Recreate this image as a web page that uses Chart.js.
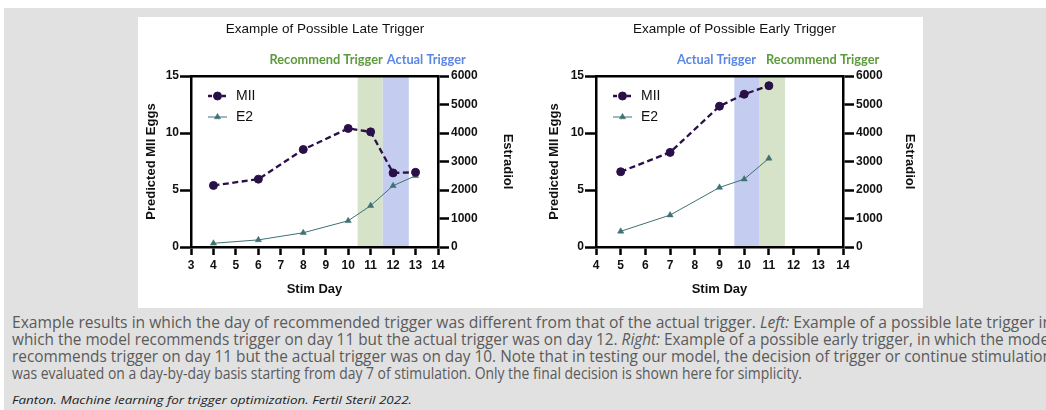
<!DOCTYPE html>
<html>
<head>
<meta charset="utf-8">
<script src="https://cdn.jsdelivr.net/npm/chart.js@4.4.1/dist/chart.umd.min.js"></script>
<style>
  html, body { margin: 0; padding: 0; background: #fff; width: 1046px; height: 410px; overflow: hidden; }
  #bg { position: absolute; left: 4px; top: 8px; right: 0; bottom: 0; background: #e1e1e1; }
  #panel { position: absolute; left: 138px; top: 17px; width: 785px; height: 291px; background: #fff; }
  #panel canvas { position: absolute; top: 0; }
  .cap { position: absolute; left: 12px; white-space: nowrap; font-family: 'Open Sans', sans-serif;
         font-size: 15.5px; line-height: 17px; color: #5a5a5a; transform-origin: 0 50%; }
  .cite { font-style: italic; font-size: 11.5px; line-height: 14px; color: #222; }
</style>
</head>
<body>
<div id="bg"></div>
<div id="panel">
  <canvas id="lateChart" width="385" height="291" style="left:0"></canvas>
  <canvas id="earlyChart" width="400" height="291" style="left:385px"></canvas>
</div>
<div class="cap" style="top:314px" data-w="1040">Example results in which the day of recommended trigger was different from that of the actual trigger. <i>Left:</i> Example of a possible late trigger in</div>
<div class="cap" style="top:331px" data-w="1041">which the model recommends trigger on day 11 but the actual trigger was on day 12. <i>Right:</i> Example of a possible early trigger, in which the model</div>
<div class="cap" style="top:347.5px" data-w="1040">recommends trigger on day 11 but the actual trigger was on day 10. Note that in testing our model, the decision of trigger or continue stimulation</div>
<div class="cap" style="top:364.5px" data-w="790">was evaluated on a day-by-day basis starting from day 7 of stimulation. Only the final decision is shown here for simplicity.</div>
<div class="cap cite" style="top:393px" data-w="400">Fanton. Machine learning for trigger optimization. Fertil Steril 2022.</div>

<script>
  // late trigger example (left)
  const daysLate = [4, 6, 8, 10, 11, 12, 13];
  const miiLate = [5.4, 5.95, 8.55, 10.4, 10.1, 6.5, 6.55];
  const e2Late = [130, 250, 500, 920, 1450, 2150, 2500];
  const recommendLate = [10.42, 11.54];
  const actualLate = [11.54, 12.7];

  // early trigger example (right)
  const daysEarly = [5, 7, 9, 10, 11];
  const miiEarly = [6.6, 8.3, 12.35, 13.4, 14.15];
  const e2Early = [550, 1120, 2090, 2380, 3110];
  const actualEarly = [9.6, 10.6];
  const recommendEarly = [10.6, 11.65];

  // axis limits
  const dayMax = 14;
  const miiMax = 15;
  const e2Max = 6000;

  const PURPLE = '#2a1048';
  const TEAL = '#3f7073';
  const GREEN_BAND = '#d6e3c9';
  const BLUE_BAND = '#c4cdf0';
  const GREEN_TXT = '#5d9a3c';
  const BLUE_TXT = '#5a86e6';

  Chart.defaults.font.family = "'Liberation Sans', Arial, Helvetica, sans-serif";
  Chart.defaults.color = '#111';

  // fit caption lines to the widths in the reference
  document.querySelectorAll('.cap').forEach(el => {
    const w = el.getBoundingClientRect().width;
    el.style.transform = 'scaleX(' + (el.dataset.w / w) + ')';
  });

  const pts = (xs, ys) => xs.map((x, i) => ({x: x, y: ys[i]}));

  // shaded trigger days + their labels above the plot
  function makeBands(items) {
    return {
      id: 'bands',
      beforeDraw(chart) {
        const {ctx, chartArea: a, scales: {x}} = chart;
        ctx.save();
        items.forEach(b => {
          const x1 = x.getPixelForValue(b.range[0]);
          const x2 = x.getPixelForValue(b.range[1]);
          ctx.fillStyle = b.color;
          ctx.fillRect(x1, a.top, x2 - x1, a.bottom - a.top);
          ctx.font = "bold 12.8px Lato, 'Liberation Sans', sans-serif";
          ctx.fillStyle = b.textColor;
          ctx.textBaseline = 'middle';
          ctx.textAlign = b.align;
          const tx = b.align === 'right' ? x2 + b.dx : x1 + b.dx;
          ctx.fillText(b.text, tx, a.top - 16.5);
        });
        ctx.restore();
      }
    };
  }

  // legend sitting in the top-left of the plot
  const insideLegend = {
    id: 'insideLegend',
    afterDatasetsDraw(chart) {
      const {ctx, chartArea: a} = chart;
      chart.data.datasets.forEach((ds, i) => {
        const y = a.top + 20 + i * 21;
        const x0 = a.left + 17, x1 = a.left + 36;
        ctx.save();
        ctx.strokeStyle = ds.borderColor;
        ctx.lineWidth = ds.borderWidth;
        ctx.setLineDash(ds.legendDash || []);
        ctx.beginPath();
        ctx.moveTo(x0, y);
        ctx.lineTo(x1, y);
        ctx.stroke();
        ctx.setLineDash([]);
        ctx.fillStyle = ds.pointBackgroundColor;
        ctx.strokeStyle = ds.pointBorderColor;
        ctx.lineWidth = ds.pointBorderWidth;
        Chart.helpers.drawPoint(ctx, {pointStyle: ds.pointStyle, radius: ds.pointRadius, borderWidth: ds.pointBorderWidth, rotation: 0}, (x0 + x1) / 2, y);
        ctx.font = "14px 'Liberation Sans', Arial, sans-serif";
        ctx.fillStyle = '#111';
        ctx.textAlign = 'left';
        ctx.textBaseline = 'middle';
        ctx.fillText(ds.label, a.left + 45, y);
        ctx.restore();
      });
    }
  };

  function buildChart(id, o) {
    const tickFont = {weight: 'bold', size: 12};
    const titleFont = {weight: 'bold', size: 13};
    const line = {color: '#000', width: 2.5};
    const plain = {useGrouping: false};
    const grid = len => ({display: true, drawOnChartArea: false, drawTicks: true, tickLength: len,
                          tickWidth: 2.5, tickColor: '#000', color: '#000'});
    return new Chart(document.getElementById(id), {
      type: 'line',
      data: {
        datasets: [{
          label: 'MII',
          data: pts(o.days, o.mii),
          yAxisID: 'y',
          borderColor: PURPLE,
          backgroundColor: PURPLE,
          borderWidth: 2.3,
          borderDash: [6, 3.5],
          legendDash: [4, 3],
          pointStyle: 'circle',
          pointRadius: 4,
          pointBorderWidth: 1,
          pointBackgroundColor: PURPLE,
          pointBorderColor: PURPLE
        }, {
          label: 'E2',
          data: pts(o.days, o.e2),
          yAxisID: 'y2',
          borderColor: TEAL,
          backgroundColor: TEAL,
          borderWidth: 1,
          pointStyle: 'triangle',
          pointRadius: 3.6,
          pointBorderWidth: 0.5,
          pointBackgroundColor: TEAL,
          pointBorderColor: TEAL
        }]
      },
      options: {
        responsive: false,
        animation: false,
        events: [],
        layout: {padding: {left: o.padL, right: o.padR, top: 0, bottom: 0}},
        plugins: {
          legend: {display: false},
          tooltip: {enabled: false},
          title: {
            display: true,
            text: o.title,
            font: {size: 13.5, weight: 'normal'},
            color: '#111',
            padding: {top: 4, bottom: 38.8}
          }
        },
        scales: {
          x: {
            type: 'linear', position: 'bottom', min: o.xMin, max: dayMax,
            ticks: {stepSize: 1, font: tickFont, color: '#111', padding: 3, format: plain},
            grid: grid(8), border: line,
            title: {display: true, text: 'Stim Day', font: titleFont, color: '#111', padding: {top: 0, bottom: 11}},
            afterFit: s => { s.height = 61; }
          },
          xTop: {
            type: 'linear', position: 'top', min: o.xMin, max: dayMax,
            ticks: {display: false}, grid: {display: false}, border: line,
            afterFit: s => { s.height = 0; }
          },
          y: {
            type: 'linear', position: 'left', min: 0, max: miiMax,
            ticks: {stepSize: 5, font: tickFont, color: '#111', padding: 1, format: plain},
            grid: grid(11), border: line,
            title: {display: true, text: 'Predicted MII Eggs', font: titleFont, color: '#111', padding: {top: o.yTitlePad}},
            afterFit: s => { s.width = o.yW; }
          },
          y2: {
            type: 'linear', position: 'right', min: 0, max: e2Max,
            ticks: {stepSize: 1000, font: tickFont, color: '#111', padding: 2, format: plain},
            grid: grid(11), border: line,
            title: {display: true, text: 'Estradiol', font: titleFont, color: '#111', padding: {top: o.y2TitlePad}},
            afterFit: s => { s.width = o.y2W; }
          }
        }
      },
      plugins: [makeBands(o.bands), insideLegend]
    });
  }

  buildChart('lateChart', {
    title: 'Example of Possible Late Trigger',
    days: daysLate, mii: miiLate, e2: e2Late, xMin: 3,
    padL: 0, padR: 11, yW: 53, y2W: 74, yTitlePad: 6, y2TitlePad: -3,
    bands: [
      {range: recommendLate, color: GREEN_BAND, text: 'Recommend Trigger', textColor: GREEN_TXT, align: 'right', dx: 0},
      {range: actualLate, color: BLUE_BAND, text: 'Actual Trigger', textColor: BLUE_TXT, align: 'left', dx: 4}
    ]
  });

  buildChart('earlyChart', {
    title: 'Example of Possible Early Trigger',
    days: daysEarly, mii: miiEarly, e2: e2Early, xMin: 4,
    padL: 23, padR: 0, yW: 50, y2W: 80, yTitlePad: 1, y2TitlePad: 5.5,
    bands: [
      {range: actualEarly, color: BLUE_BAND, text: 'Actual Trigger', textColor: BLUE_TXT, align: 'right', dx: -3},
      {range: recommendEarly, color: GREEN_BAND, text: 'Recommend Trigger', textColor: GREEN_TXT, align: 'left', dx: 7}
    ]
  });
</script>
</body>
</html>
